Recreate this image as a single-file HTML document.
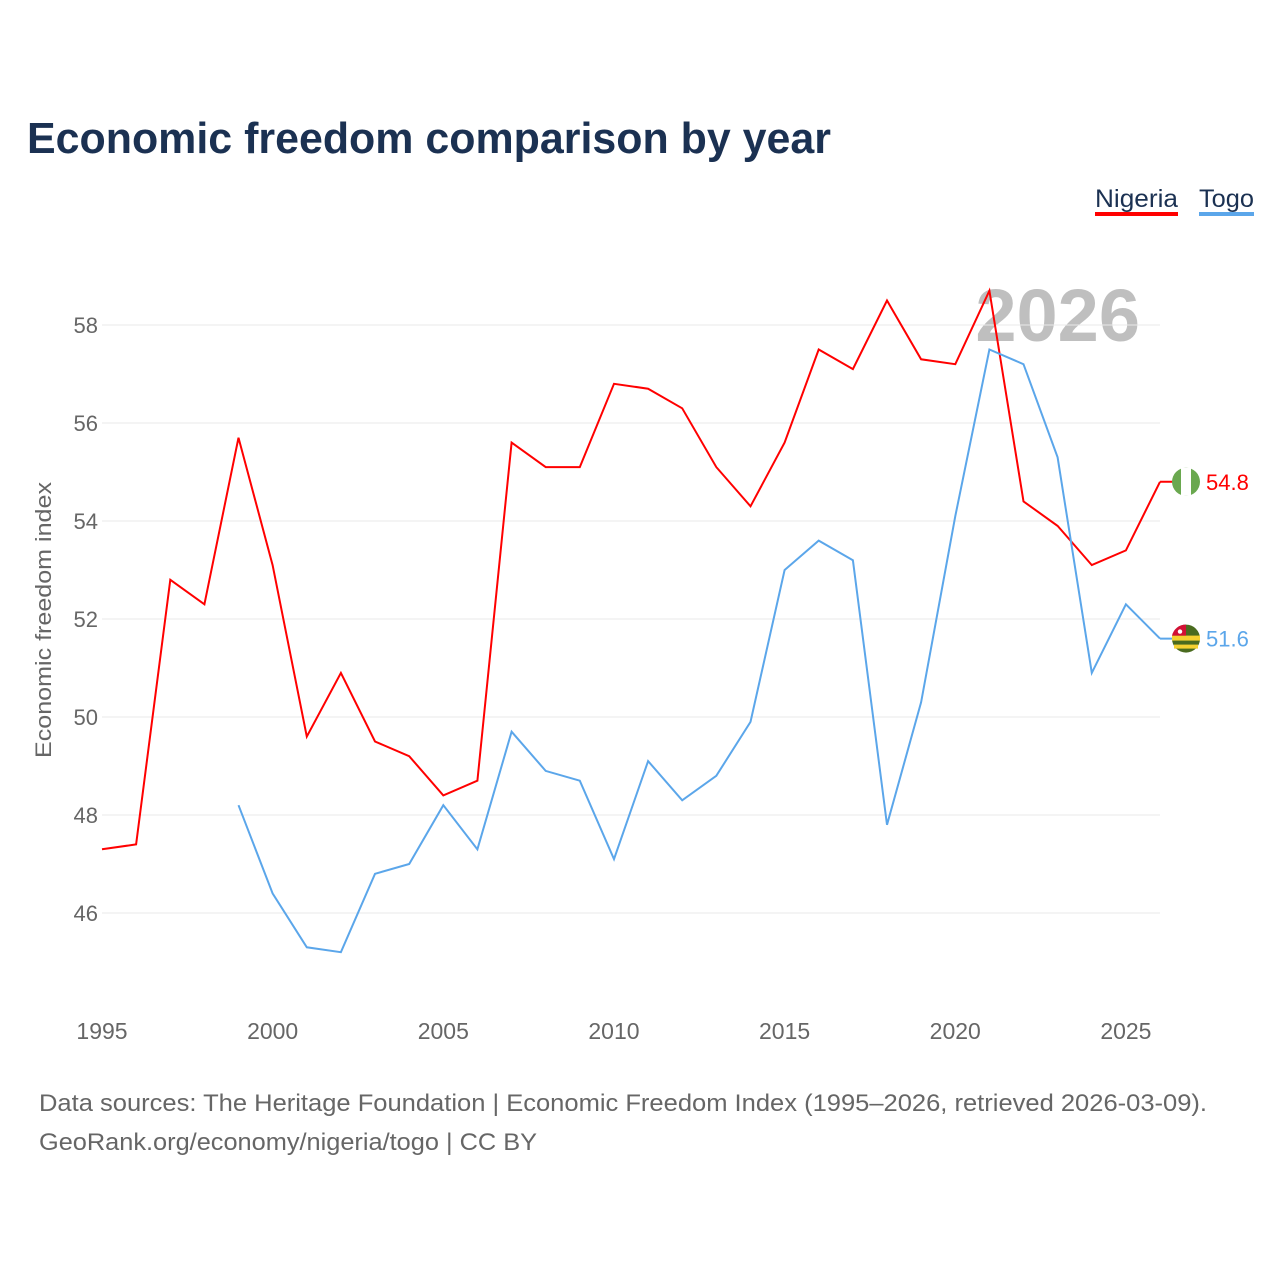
<!DOCTYPE html>
<html><head><meta charset="utf-8"><style>
body{margin:0;background:#fff;width:1280px;height:1280px;overflow:hidden;font-family:"Liberation Sans",sans-serif}
</style></head><body>
<svg id="chart" width="1280" height="1280" xmlns="http://www.w3.org/2000/svg" font-family="Liberation Sans, sans-serif">
<text x="27" y="153" font-size="44" font-weight="bold" fill="#1b3152" textLength="804" lengthAdjust="spacingAndGlyphs">Economic freedom comparison by year</text>
<g><text x="1095" y="207" font-size="25" fill="#1b3152" textLength="83" lengthAdjust="spacingAndGlyphs">Nigeria</text><rect x="1095" y="212" width="83" height="4" fill="#ff0000"/></g>
<g><text x="1199" y="207" font-size="25" fill="#1b3152" textLength="55" lengthAdjust="spacingAndGlyphs">Togo</text><rect x="1199" y="212" width="55" height="4" fill="#5ba6ea"/></g>
<text x="1140" y="341" font-size="74" font-weight="bold" fill="#bfbfbf" text-anchor="end">2026</text>
<text transform="translate(51,620) rotate(-90)" font-size="22" fill="#666" text-anchor="middle" textLength="276" lengthAdjust="spacingAndGlyphs">Economic freedom index</text>
<g id="grid"></g><g id="xt"></g><g id="series"></g><g id="ends"></g>
<text x="39" y="1111" font-size="24" fill="#666" textLength="1168" lengthAdjust="spacingAndGlyphs">Data sources: The Heritage Foundation | Economic Freedom Index (1995–2026, retrieved 2026-03-09).</text>
<text x="39" y="1150" font-size="24" fill="#666" textLength="498" lengthAdjust="spacingAndGlyphs">GeoRank.org/economy/nigeria/togo | CC BY</text>
</svg>
<script>
const years=[1995,1996,1997,1998,1999,2000,2001,2002,2003,2004,2005,2006,2007,2008,2009,2010,2011,2012,2013,2014,2015,2016,2017,2018,2019,2020,2021,2022,2023,2024,2025,2026];
const nigeria=[47.3,47.4,52.8,52.3,55.7,53.1,49.6,50.9,49.5,49.2,48.4,48.7,55.6,55.1,55.1,56.8,56.7,56.3,55.1,54.3,55.6,57.5,57.1,58.5,57.3,57.2,58.7,54.4,53.9,53.1,53.4,54.8];
const togo=[null,null,null,null,48.2,46.4,45.3,45.2,46.8,47.0,48.2,47.3,49.7,48.9,48.7,47.1,49.1,48.3,48.8,49.9,53.0,53.6,53.2,47.8,50.3,54.1,57.5,57.2,55.3,50.9,52.3,51.6];
const yTicks=[46,48,50,52,54,56,58];
const xTicks=[1995,2000,2005,2010,2015,2020,2025];
const NS="http://www.w3.org/2000/svg";
const x=v=>102+(v-1995)*34.13;
const y=v=>325+(58-v)*49;
function mk(t,a,p){const e=document.createElementNS(NS,t);for(const k in a)e.setAttribute(k,a[k]);p.appendChild(e);return e;}
const grid=document.getElementById('grid');
yTicks.forEach(t=>{
 const l=mk('line',{x1:102,x2:1160,y1:y(t),y2:y(t),stroke:'#e8e8e8','stroke-width':1},grid);
 
 
 const tx=mk('text',{x:98,y:y(t)+8,'font-size':22,fill:'#666','text-anchor':'end'},grid);tx.textContent=t;
 
 
});
const xt=document.getElementById('xt');
xTicks.forEach(t=>{
 const tx=mk('text',{x:x(t),y:1039,'font-size':23,fill:'#666','text-anchor':'middle'},xt);tx.textContent=t;
 
 
});
function path(vals){let d='';vals.forEach((v,i)=>{if(v==null)return;d+=(d?'L':'M')+x(years[i]).toFixed(1)+','+y(v).toFixed(1);});return d;}
const s=document.getElementById('series');
const pn=mk('path',{d:path(nigeria),fill:'none',stroke:'#ff0000','stroke-width':2},s);


const pt=mk('path',{d:path(togo),fill:'none',stroke:'#5ba6ea','stroke-width':2},s);


const ends=document.getElementById('ends');
const nv=nigeria[nigeria.length-1],tv=togo[togo.length-1];
let g=mk('g',{},ends);


mk('line',{x1:x(2026),x2:1186,y1:y(nv),y2:y(nv),stroke:'#ff0000','stroke-width':2},g);
mk('circle',{cx:1186,cy:y(nv),r:14,fill:'#6aa84f'},g);
mk('rect',{x:1181,y:y(nv)-14,width:10,height:28,fill:'#fff'},g);
let t=mk('text',{x:1206,y:y(nv)+8,'font-size':22,fill:'#ff0000'},ends);t.textContent=nv.toFixed(1);


g=mk('g',{},ends);


mk('line',{x1:x(2026),x2:1186,y1:y(tv),y2:y(tv),stroke:'#5ba6ea','stroke-width':2},g);
const cy=y(tv);
mk('circle',{cx:1186,cy:cy,r:14,fill:'#4a6b1f'},g);
mk('rect',{x:1172,y:cy-3,width:28,height:5,fill:'#f5d130'},g);
mk('rect',{x:1174,y:cy+6,width:24,height:4,fill:'#f5d130'},g);
mk('path',{d:`M1172,${cy-3}L1186,${cy-3}L1186,${cy-14}A14,14 0 0 0 1172,${cy-3}Z`,fill:'#d21034'},g);
mk('circle',{cx:1180,cy:cy-7,r:2.2,fill:'#fff'},g);
t=mk('text',{x:1206,y:cy+8,'font-size':22,fill:'#5ba6ea'},ends);t.textContent=tv.toFixed(1);


</script>
</body></html>
